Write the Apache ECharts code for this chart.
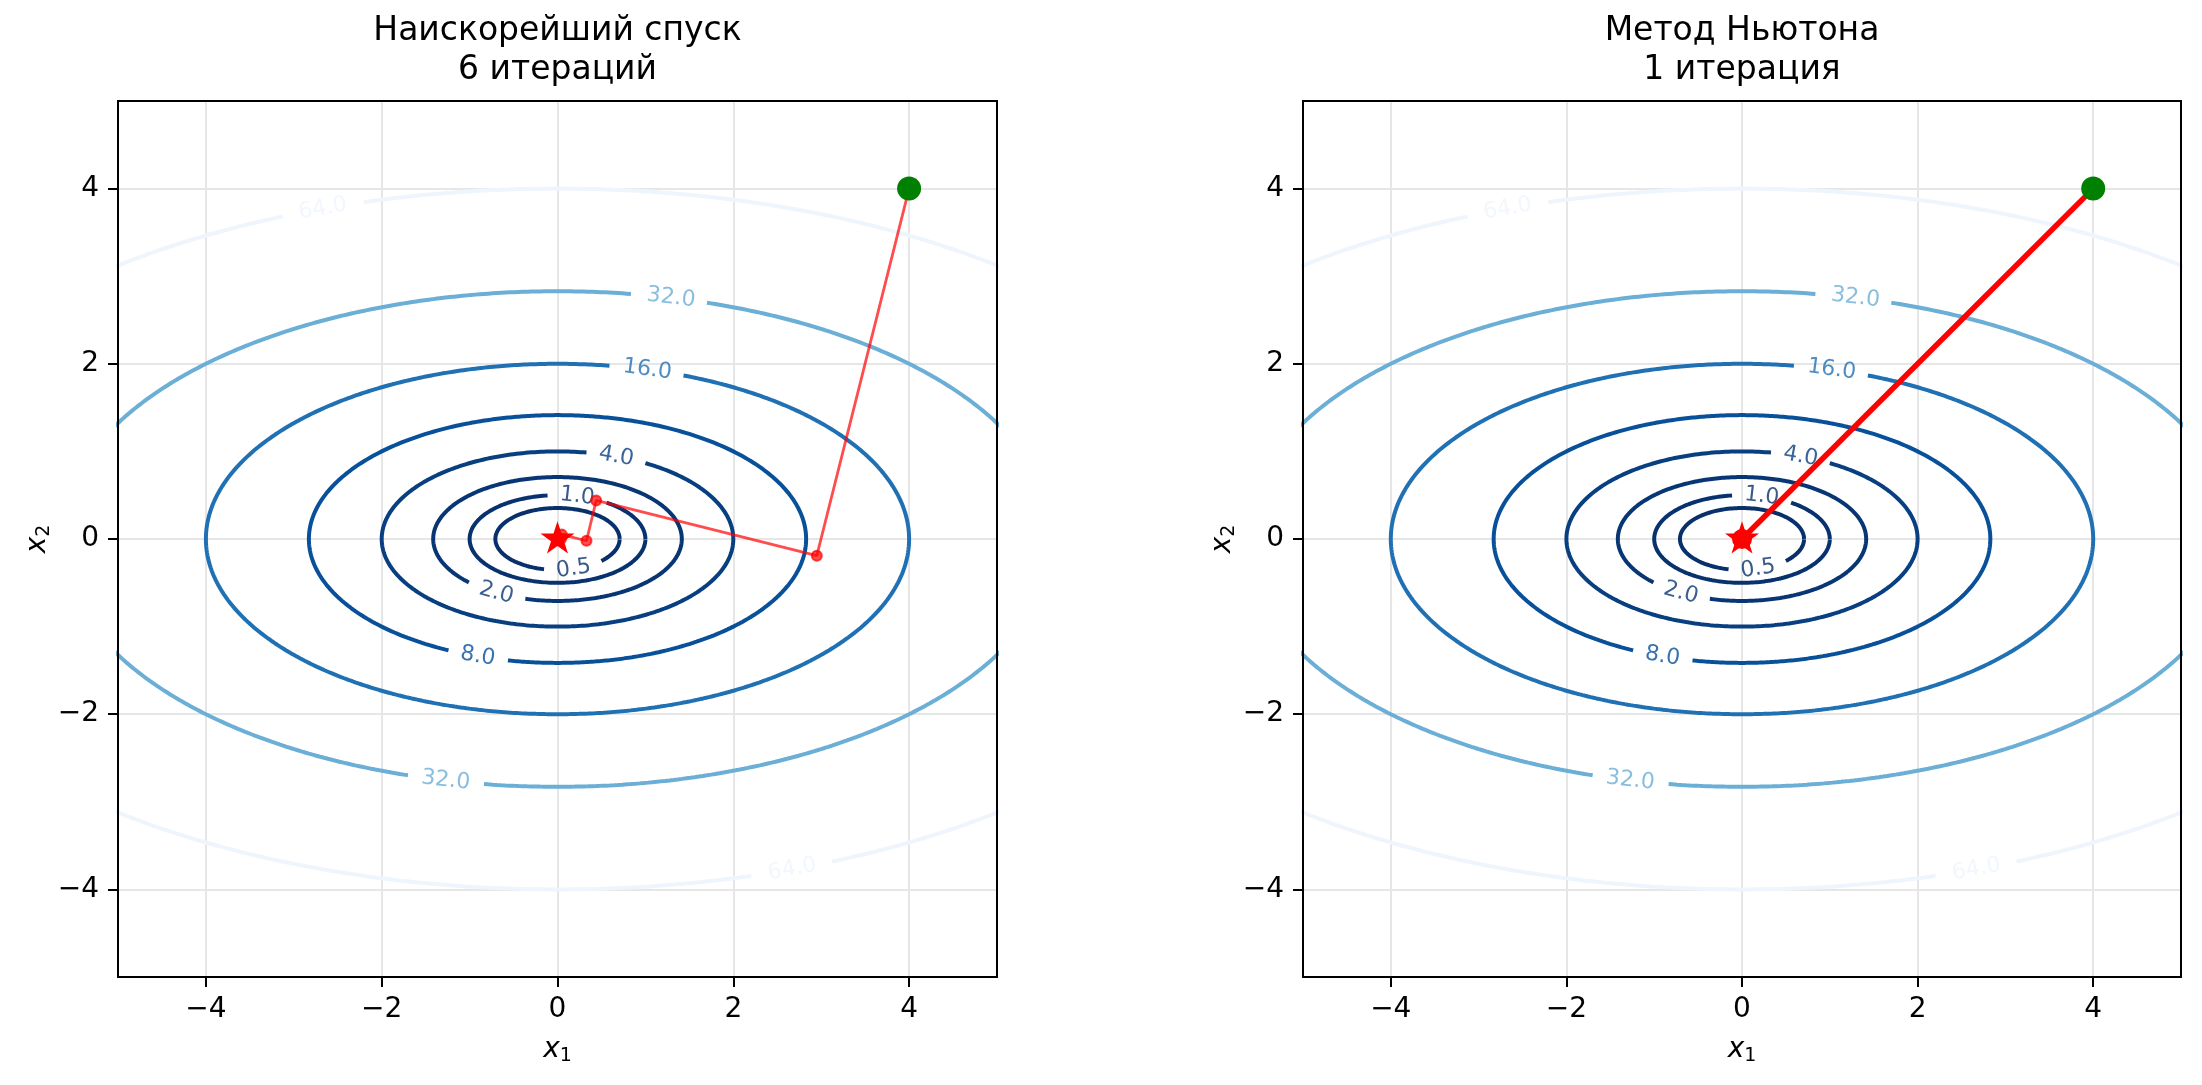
<!DOCTYPE html>
<html>
<head>
<meta charset="utf-8">
<script src="https://cdn.jsdelivr.net/npm/echarts@6/dist/echarts.min.js"></script>
<style>
  html, body { margin: 0; padding: 0; background: #fff; }
  #chart { width: 2202px; height: 1085px; }
</style>
</head>
<body>
<div id="chart"></div>
<script>
// f(x1, x2) = x1^2 + 4 * x2^2, contour levels as labelled
const levels = [0.5, 1, 2, 4, 8, 16, 32, 64];
const tickValues = [-4, -2, 0, 2, 4];
// steepest descent path (6 iterations)
const sdX = [4, 2.95, 0.44, 0.33, 0.05, 0.04, 0.01];
const sdY = [4, -0.19, 0.44, -0.02, 0.05, 0.0, 0.01];
// Newton path (1 iteration)
const newtonX = [4, 0];
const newtonY = [4, 0];
const startPoint = [4, 4];
const optimum = [0, 0];
const titles = ["Наискорейший спуск\n6 итераций", "Метод Ньютона\n1 итерация"];

// styling: Blues_r by level, label positions (angle on the ellipse, deg)
const levelColors = ["#08306b", "#08326e", "#083674", "#083f81", "#08509a", "#2070b4", "#6baed6", "#eef5fd"];
const labelAngles = [[-75], [77], [-119.5], [70.5], [-108.7], [75.2], [76.8, -103], [109.5, -70.5]];

const FONT = "DejaVu Sans";
const grids = [
  { left: 118, top: 101, width: 879, height: 876 },
  { left: 1303, top: 101, width: 878, height: 876 },
];
const pxX = 879 / 10;
const pxY = 876 / 10;

const fmt = (v) => (v < 0 ? "\u2212" + Math.abs(v) : String(v));

// matplotlib-like '*' marker
const starPath = (() => {
  let d = "path://";
  for (let k = 0; k < 10; k++) {
    const ang = (90 + k * 36) * Math.PI / 180;
    const r = k % 2 === 0 ? 1 : 0.381966;
    d += (k === 0 ? "M" : "L") + (r * Math.cos(ang)).toFixed(4) + " " + (-r * Math.sin(ang)).toFixed(4);
  }
  return d + "Z";
})();

function contourSeries(gi) {
  const out = [];
  const labelData = [];
  levels.forEach((L, li) => {
    const a = Math.sqrt(L), b = Math.sqrt(L) / 2;
    const text = L.toFixed(1);
    const halfGap = (text.length === 3 ? 29 : 36) / pxX;
    const centers = labelAngles[li].map((deg) => {
      const t = deg * Math.PI / 180;
      const c = [a * Math.cos(t), b * Math.sin(t)];
      let rot = Math.atan2(b * Math.cos(t) * pxY, -a * Math.sin(t) * pxX) * 180 / Math.PI;
      if (rot > 90) rot -= 180;
      if (rot < -90) rot += 180;
      labelData.push({
        value: c,
        label: { formatter: text, rotate: rot, color: levelColors[li] },
      });
      return c;
    });
    let cur = [];
    const segs = [];
    for (let i = 0; i <= 720; i++) {
      const t = i * Math.PI / 360;
      const p = [a * Math.cos(t), b * Math.sin(t)];
      const hidden = centers.some((c) => Math.hypot(p[0] - c[0], p[1] - c[1]) < halfGap);
      if (hidden) {
        if (cur.length > 1) segs.push(cur);
        cur = [];
      } else cur.push(p);
    }
    if (cur.length > 1) segs.push(cur);
    segs.forEach((s) => {
      out.push({
        type: "line",
        xAxisIndex: gi,
        yAxisIndex: gi,
        data: s,
        showSymbol: false,
        symbol: "none",
        clip: true,
        silent: true,
        z: 2,
        lineStyle: { color: levelColors[li], width: 4 },
      });
    });
  });
  out.push({
    type: "scatter",
    xAxisIndex: gi,
    yAxisIndex: gi,
    data: labelData,
    symbol: "circle",
    symbolSize: 0.1,
    itemStyle: { color: "transparent" },
    silent: true,
    z: 3,
    label: { show: true, position: "inside", fontSize: 22, fontFamily: FONT },
  });
  return out;
}

function makeAxis(gi, dim) {
  const isX = dim === "x";
  return {
    gridIndex: gi,
    type: "value",
    min: -5,
    max: 5,
    splitNumber: 5,
    position: isX ? "bottom" : "left",
    axisLine: { show: true, onZero: false, lineStyle: { color: "#000", width: 2 } },
    axisTick: { show: true, length: 10, customValues: tickValues, lineStyle: { color: "#000", width: 2 } },
    axisLabel: {
      customValues: tickValues,
      formatter: fmt,
      fontSize: 28,
      fontFamily: FONT,
      color: "#000",
      margin: 19,
    },
    splitLine: { show: true, lineStyle: { color: "#e6e6e6", width: 2 } },
    name: isX ? "{i|x}{s|1}" : "{i|x}{s|2}",
    nameLocation: "middle",
    nameGap: isX ? 57 : 63,
    nameTextStyle: {
      color: "#000",
      fontFamily: FONT,
      rich: {
        i: { fontSize: 28, fontStyle: "italic", fontFamily: FONT, lineHeight: 32, color: "#000" },
        s: { fontSize: 19, fontFamily: FONT, lineHeight: 19, verticalAlign: "bottom", color: "#000" },
      },
    },
  };
}

const series = [];
[0, 1].forEach((gi) => {
  contourSeries(gi).forEach((s) => series.push(s));
});

series.push({
  type: "line",
  xAxisIndex: 0,
  yAxisIndex: 0,
  data: sdX.map((x, i) => [x, sdY[i]]),
  symbol: "circle",
  symbolSize: 10,
  showSymbol: true,
  z: 4,
  lineStyle: { color: "rgba(255,0,0,0.7)", width: 2.8 },
  itemStyle: { color: "rgba(255,0,0,0.7)", borderColor: "rgba(255,0,0,0.7)", borderWidth: 2 },
});
series.push({
  type: "line",
  xAxisIndex: 1,
  yAxisIndex: 1,
  data: newtonX.map((x, i) => [x, newtonY[i]]),
  symbol: "circle",
  symbolSize: 20,
  showSymbol: true,
  z: 4,
  lineStyle: { color: "#ff0000", width: 5.5 },
  itemStyle: { color: "#ff0000", opacity: 1 },
});
[0, 1].forEach((gi) => {
  series.push({
    type: "scatter",
    xAxisIndex: gi,
    yAxisIndex: gi,
    data: [startPoint],
    symbol: "circle",
    symbolSize: 24,
    z: 5,
    itemStyle: { color: "#008000", opacity: 1 },
  });
  series.push({
    type: "scatter",
    xAxisIndex: gi,
    yAxisIndex: gi,
    data: [optimum],
    symbol: starPath,
    symbolSize: 34,
    symbolKeepAspect: true,
    symbolOffset: [0, -1.6],
    z: 6,
    itemStyle: { color: "#ff0000", opacity: 1 },
  });
});

const option = {
  backgroundColor: "#fff",
  animation: false,
  grid: grids.map((g) => ({
    ...g,
    show: true,
    z: 8,
    borderColor: "#000",
    borderWidth: 2,
    backgroundColor: "transparent",
  })),
  xAxis: [makeAxis(0, "x"), makeAxis(1, "x")],
  yAxis: [makeAxis(0, "y"), makeAxis(1, "y")],
  graphic: titles.map((t, i) => ({
    type: "text",
    x: grids[i].left + grids[i].width / 2,
    y: 12,
    style: {
      text: t,
      align: "center",
      verticalAlign: "top",
      textAlign: "center",
      textVerticalAlign: "top",
      fontSize: 33,
      fontFamily: FONT,
      lineHeight: 39,
      fill: "#000",
    },
  })),
  series: series,
};

const chart = echarts.init(document.getElementById("chart"));
chart.setOption(option);
</script>
</body>
</html>
